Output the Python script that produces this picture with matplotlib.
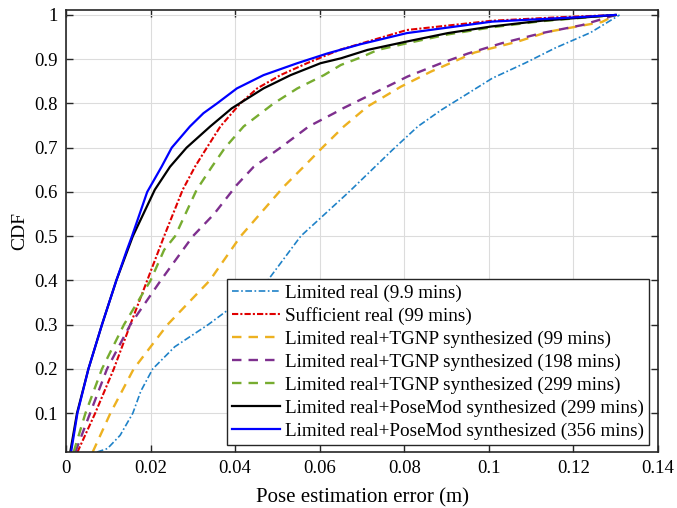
import matplotlib
matplotlib.use("Agg")
import matplotlib.pyplot as plt


# each curve: pose error (m) and the CDF value at that error

LIMITED_X = [0.0073, 0.0098, 0.0128, 0.0158, 0.0177, 0.0205, 0.0257, 0.0336, 0.0477,
             0.0555, 0.0669, 0.0772, 0.0832, 0.0887, 0.0951, 0.1008, 0.1085, 0.1156,
             0.1240, 0.1309]
LIMITED_Y = [0.012, 0.02, 0.05, 0.10, 0.15, 0.20, 0.25, 0.30, 0.40,
             0.50, 0.60, 0.695, 0.748, 0.785, 0.823, 0.857, 0.891, 0.925,
             0.960, 1.0]

SUFFICIENT_X = [0.0027, 0.0069, 0.0113, 0.0152, 0.0192, 0.0232, 0.0276, 0.0305,
                0.0333, 0.0365, 0.0412, 0.0452, 0.0507, 0.0570, 0.0626, 0.0650, 0.0806,
                0.1008, 0.1170, 0.1300]
SUFFICIENT_Y = [0.012, 0.10, 0.20, 0.30, 0.40, 0.50, 0.605, 0.657,
                0.70, 0.748, 0.80, 0.834, 0.864, 0.891, 0.913, 0.922, 0.966,
                0.987, 0.995, 1.0]

TGNP99_X = [0.0063, 0.0105, 0.0160, 0.0240, 0.0340, 0.0413, 0.0515, 0.0562, 0.0606,
            0.0657, 0.0713, 0.0792, 0.0863, 0.0966, 0.1069, 0.1140, 0.1267, 0.1300]
TGNP99_Y = [0.012, 0.10, 0.20, 0.30, 0.40, 0.50, 0.612, 0.657, 0.70,
            0.748, 0.793, 0.838, 0.872, 0.915, 0.940, 0.962, 0.984, 1.0]

TGNP198_X = [0.0022, 0.0057, 0.0097, 0.0152, 0.0224, 0.0300, 0.0350, 0.0404,
             0.0444, 0.0507, 0.0574, 0.0634, 0.0657, 0.0721, 0.0808, 0.0887, 0.0951,
             0.1030, 0.1125, 0.1220, 0.1300]
TGNP198_Y = [0.012, 0.10, 0.20, 0.30, 0.40, 0.50, 0.55, 0.616,
             0.657, 0.70, 0.748, 0.778, 0.790, 0.820, 0.861, 0.891, 0.913,
             0.936, 0.959, 0.977, 1.0]

TGNP299_X = [0.0018, 0.0046, 0.0085, 0.0137, 0.0200, 0.0232, 0.0258, 0.0309, 0.0345,
             0.0376, 0.0420, 0.0491, 0.0547, 0.0610, 0.0650, 0.0697, 0.0737, 0.0806,
             0.0903, 0.1006, 0.1125, 0.1300]
TGNP299_Y = [0.012, 0.10, 0.20, 0.30, 0.40, 0.469, 0.50, 0.605, 0.657,
             0.70, 0.748, 0.80, 0.834, 0.864, 0.887, 0.904, 0.921, 0.936,
             0.956, 0.972, 0.986, 1.0]

POSEMOD299_X = [0.0010, 0.0026, 0.0053, 0.0085, 0.0119, 0.0158, 0.0210, 0.0246, 0.0285,
                0.0341, 0.0392, 0.0467, 0.0531, 0.0602, 0.0650, 0.0713, 0.0806, 0.0903,
                0.1006, 0.1125, 0.1300]
POSEMOD299_Y = [0.012, 0.10, 0.20, 0.30, 0.40, 0.50, 0.605, 0.657, 0.70,
                0.748, 0.789, 0.834, 0.864, 0.891, 0.902, 0.921, 0.940, 0.959,
                0.974, 0.987, 1.0]

POSEMOD356_X = [0.0012, 0.0027, 0.0053, 0.0085, 0.0119, 0.0144, 0.0156, 0.0192, 0.0226,
                0.0250, 0.0293, 0.0325, 0.0357, 0.0404, 0.0467, 0.0547, 0.0618, 0.0697,
                0.0806, 0.1008, 0.1211, 0.1300]
POSEMOD356_Y = [0.012, 0.10, 0.20, 0.30, 0.40, 0.469, 0.50, 0.60, 0.657,
                0.70, 0.748, 0.778, 0.80, 0.834, 0.864, 0.891, 0.913, 0.934,
                0.959, 0.985, 0.995, 1.0]

LABELS = [
    "Limited real (9.9 mins)",
    "Sufficient real (99 mins)",
    "Limited real+TGNP synthesized (99 mins)",
    "Limited real+TGNP synthesized (198 mins)",
    "Limited real+TGNP synthesized (299 mins)",
    "Limited real+PoseMod synthesized (299 mins)",
    "Limited real+PoseMod synthesized (356 mins)",
]

plt.rcParams["font.family"] = ["Liberation Serif", "DejaVu Serif"]
plt.rcParams["font.size"] = 13

fig = plt.figure(figsize=(6.77, 5.08), dpi=100)
ax = fig.add_axes([0.0975, 0.110, 0.8745, 0.871])

dashed = (0, (4, 3))
ax.plot(LIMITED_X, LIMITED_Y, color="#1f82c8", lw=1.2,
        linestyle=(0, (4, 1.5, 1, 1.5)), label=LABELS[0])
ax.plot(SUFFICIENT_X, SUFFICIENT_Y, color="#e00000", lw=1.5,
        linestyle=(0, (3, 1, 1, 1)), label=LABELS[1])
ax.plot(TGNP99_X, TGNP99_Y, color="#EDB120", lw=1.7, linestyle=dashed, label=LABELS[2])
ax.plot(TGNP198_X, TGNP198_Y, color="#7E2F8E", lw=1.7, linestyle=dashed, label=LABELS[3])
ax.plot(TGNP299_X, TGNP299_Y, color="#77AC30", lw=1.7, linestyle=dashed, label=LABELS[4])
ax.plot(POSEMOD299_X, POSEMOD299_Y, color="black", lw=1.6, label=LABELS[5])
ax.plot(POSEMOD356_X, POSEMOD356_Y, color="#0000ff", lw=1.6, label=LABELS[6])

ax.set_xlim(0, 0.14)
ax.set_ylim(0.012, 1.012)
ax.set_xticks([0, 0.02, 0.04, 0.06, 0.08, 0.1, 0.12, 0.14])
ax.set_xticklabels(["0", "0.02", "0.04", "0.06", "0.08", "0.1", "0.12", "0.14"])
ax.set_yticks([0.1, 0.2, 0.3, 0.4, 0.5, 0.6, 0.7, 0.8, 0.9, 1.0])
ax.set_yticklabels(["0.1", "0.2", "0.3", "0.4", "0.5", "0.6", "0.7", "0.8", "0.9", "1"])

ax.grid(True, color="#dcdcdc", lw=0.8)
ax.tick_params(direction="in", top=True, right=True, length=5, width=1,
               color="#262626", labelsize=13.5, pad=6)
for s in ax.spines.values():
    s.set_color("#262626")
    s.set_linewidth(1.2)

ax.set_xlabel("Pose estimation error (m)", fontsize=15, labelpad=8)
ax.set_ylabel("CDF", fontsize=14, labelpad=4)

leg = ax.legend(loc="lower right", bbox_to_anchor=(0.985, 0.016), borderaxespad=0,
                fontsize=13.8, handlelength=2.55, handletextpad=0.26,
                labelspacing=0.29, borderpad=0.25, fancybox=False,
                framealpha=1, edgecolor="#262626")
leg.get_frame().set_linewidth(1.0)

fig.savefig("out.png", dpi=100)
